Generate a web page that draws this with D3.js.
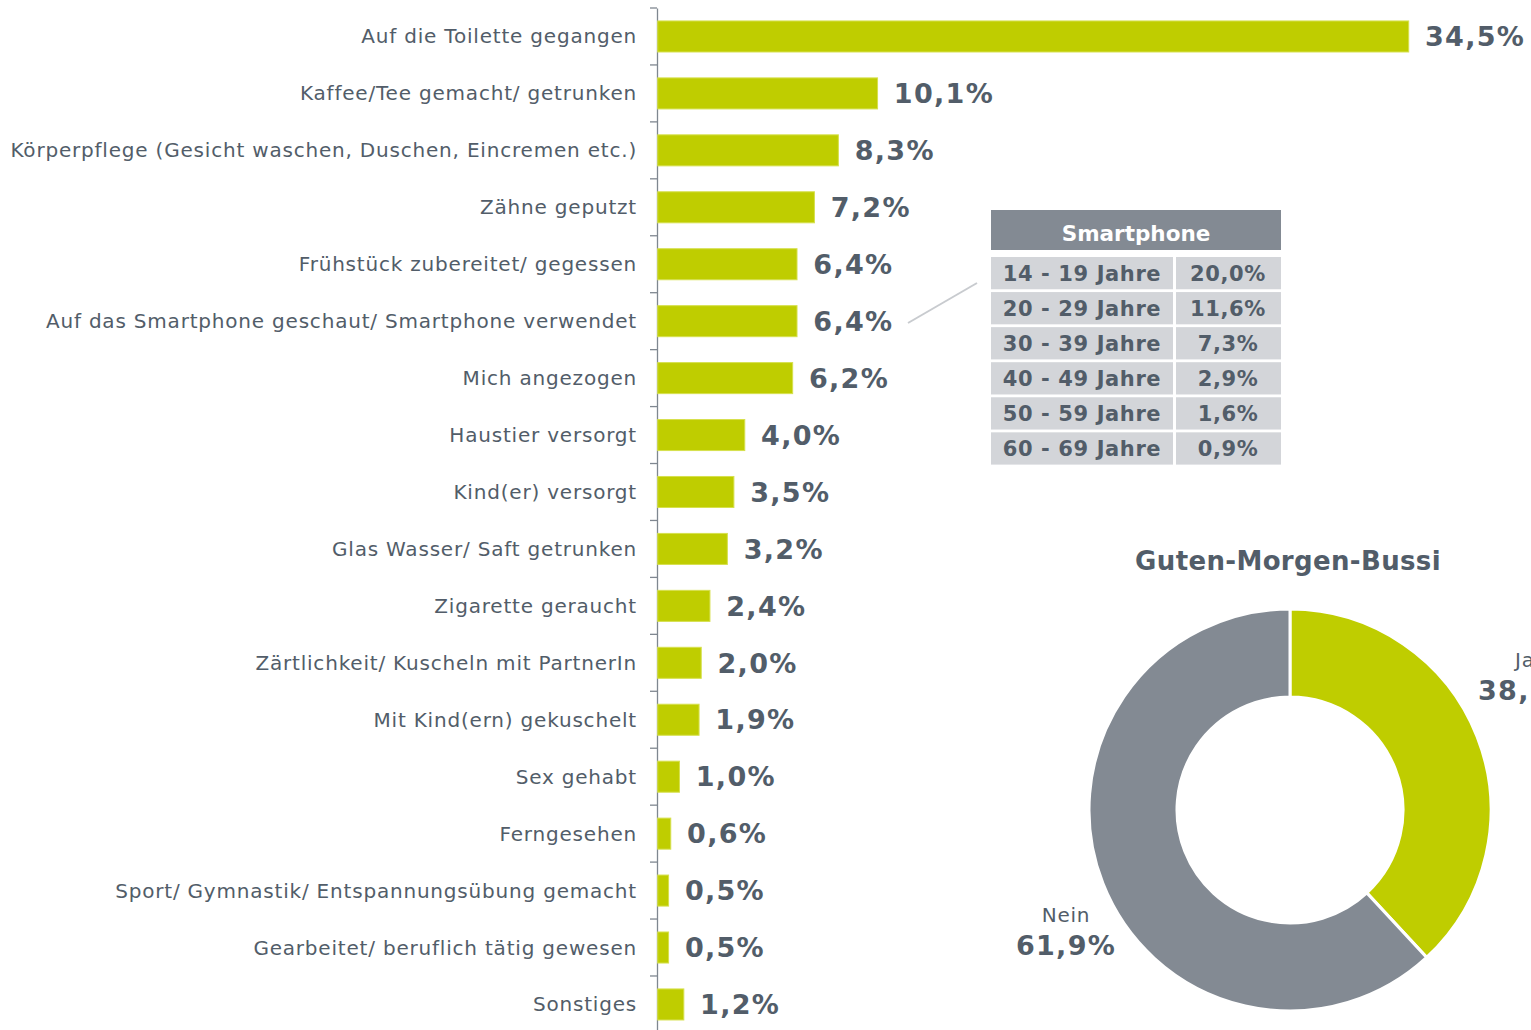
<!DOCTYPE html>
<html>
<head>
<meta charset="utf-8">
<script src="https://cdn.jsdelivr.net/npm/d3@7"></script>
<style>
    body { margin: 0; background: #fff; }
    text { font-family: "DejaVu Sans", Verdana, sans-serif; }
</style>
</head>
<body>
<div id="chart-area"></div>
<script>

// Data
let categories = [
    "Auf die Toilette gegangen",
    "Kaffee/Tee gemacht/ getrunken",
    "Körperpflege (Gesicht waschen, Duschen, Eincremen etc.)",
    "Zähne geputzt",
    "Frühstück zubereitet/ gegessen",
    "Auf das Smartphone geschaut/ Smartphone verwendet",
    "Mich angezogen",
    "Haustier versorgt",
    "Kind(er) versorgt",
    "Glas Wasser/ Saft getrunken",
    "Zigarette geraucht",
    "Zärtlichkeit/ Kuscheln mit PartnerIn",
    "Mit Kind(ern) gekuschelt",
    "Sex gehabt",
    "Ferngesehen",
    "Sport/ Gymnastik/ Entspannungsübung gemacht",
    "Gearbeitet/ beruflich tätig gewesen",
    "Sonstiges"
];
let values = [34.5, 10.1, 8.3, 7.2, 6.4, 6.4, 6.2, 4.0, 3.5, 3.2, 2.4, 2.0, 1.9, 1.0, 0.6, 0.5, 0.5, 1.2];

let ageGroups = ["14 - 19 Jahre", "20 - 29 Jahre", "30 - 39 Jahre", "40 - 49 Jahre", "50 - 59 Jahre", "60 - 69 Jahre"];
let smartphoneShares = [20.0, 11.6, 7.3, 2.9, 1.6, 0.9];

let donutLabels = ["Ja", "Nein"];
let donutValues = [38.1, 61.9];

let green = "#bfcd00",
    grey = "#838a93",
    textColor = "#525d69";

let fmt = v => d3.format(".1f")(v).replace(".", ",") + "%";

let svg = d3.select("#chart-area").append("svg")
    .attr("width", 1531)
    .attr("height", 1030);

// Scales
let axisX = 657;
let step = 56.94;

let x = d3.scaleLinear()
    .domain([0, 34.5])
    .range([axisX, 1408]);

let y = d3.scaleBand()
    .domain(categories)
    .range([8, 8 + step * categories.length])
    .paddingInner(0.455)
    .paddingOuter(0.2275);

// Axis
let yAxis = d3.axisLeft(y).tickSize(0).tickPadding(20);

let yAxisGroup = svg.append("g")
    .attr("class", "y-axis")
    .attr("transform", "translate(" + axisX + ",0)")
    .call(yAxis);

yAxisGroup.select(".domain").attr("stroke", "#7f8790").attr("stroke-width", 1.3);
yAxisGroup.selectAll("text")
    .attr("fill", textColor)
    .style("font-size", "20px")
    .style("letter-spacing", "0.8px")
    .attr("dy", "0.35em");

// boundary ticks between bands
svg.selectAll(".band-tick")
    .data(d3.range(categories.length + 1))
    .enter().append("line")
    .attr("class", "band-tick")
    .attr("x1", axisX - 7)
    .attr("x2", axisX)
    .attr("y1", i => y.range()[0] + i * y.step())
    .attr("y2", i => y.range()[0] + i * y.step())
    .attr("stroke", "#7f8790")
    .attr("stroke-width", 1.3);

// Bars
svg.selectAll(".bar")
    .data(values)
    .enter().append("rect")
    .attr("class", "bar")
    .attr("x", axisX + 0.7)
    .attr("y", (d, i) => y(categories[i]))
    .attr("width", d => x(d) - axisX)
    .attr("height", y.bandwidth())
    .attr("fill", green)
    .attr("stroke", "#d6e04d")
    .attr("stroke-width", 1);

svg.selectAll(".bar-label")
    .data(values)
    .enter().append("text")
    .attr("class", "bar-label")
    .attr("x", d => x(d) + 17)
    .attr("y", (d, i) => y(categories[i]) + y.bandwidth() / 2)
    .attr("dy", "0.36em")
    .attr("fill", textColor)
    .style("font-size", "27px")
    .style("font-weight", "bold")
    .style("letter-spacing", "1.3px")
    .text(d => fmt(d));

// Callout line to table
svg.append("line")
    .attr("x1", 908).attr("y1", 323)
    .attr("x2", 977).attr("y2", 283)
    .attr("stroke", "#c8cbcf")
    .attr("stroke-width", 2);

// Smartphone table
let table = svg.append("g").attr("transform", "translate(991,210)");

table.append("rect")
    .attr("width", 290).attr("height", 40)
    .attr("fill", grey);

table.append("text")
    .attr("x", 145).attr("y", 23)
    .attr("dy", "0.35em")
    .attr("text-anchor", "middle")
    .attr("fill", "#fff")
    .style("font-size", "21.5px")
    .style("font-weight", "bold")
    .text("Smartphone");

let rowY = d3.scaleBand()
    .domain(ageGroups)
    .range([47, 47 + 34.6 * ageGroups.length])
    .paddingInner(0.08);

let rows = table.selectAll(".row")
    .data(ageGroups)
    .enter().append("g")
    .attr("class", "row")
    .attr("transform", d => "translate(0," + rowY(d) + ")");

rows.append("rect")
    .attr("width", 182).attr("height", rowY.bandwidth())
    .attr("fill", "#d3d5d9");
rows.append("rect")
    .attr("x", 185).attr("width", 105).attr("height", rowY.bandwidth())
    .attr("fill", "#d3d5d9");

rows.append("text")
    .attr("x", 91).attr("y", rowY.bandwidth() / 2)
    .attr("dy", "0.36em")
    .attr("text-anchor", "middle")
    .attr("fill", textColor)
    .style("font-size", "21px")
    .style("font-weight", "bold")
    .style("letter-spacing", "0.6px")
    .text(d => d);

rows.append("text")
    .attr("x", 237).attr("y", rowY.bandwidth() / 2)
    .attr("dy", "0.36em")
    .attr("text-anchor", "middle")
    .attr("fill", textColor)
    .style("font-size", "21px")
    .style("font-weight", "bold")
    .style("letter-spacing", "0.6px")
    .text((d, i) => fmt(smartphoneShares[i]));

// Donut
let cx = 1290, cy = 810;

svg.append("text")
    .attr("x", 1288).attr("y", 570)
    .attr("text-anchor", "middle")
    .attr("fill", textColor)
    .style("font-size", "26px")
    .style("font-weight", "bold")
    .style("letter-spacing", "0.35px")
    .text("Guten-Morgen-Bussi");

let pie = d3.pie().sort(null)(donutValues);
let arc = d3.arc().innerRadius(113).outerRadius(201);

let donut = svg.append("g").attr("transform", "translate(" + cx + "," + cy + ")");

donut.selectAll(".slice")
    .data(pie)
    .enter().append("path")
    .attr("class", "slice")
    .attr("d", arc)
    .attr("fill", (d, i) => i === 0 ? green : grey)
    .attr("stroke", "#fff")
    .attr("stroke-width", 3);

let donutLabelPos = [[1478, 660], [1066, 915]];
let donutAnchor = ["start", "middle"];

donutLabelPos.forEach((p, i) => {
    svg.append("text")
        .attr("x", i === 0 ? p[0] + 37 : p[0]).attr("y", p[1])
        .attr("dy", "0.35em")
        .attr("text-anchor", donutAnchor[i])
        .attr("fill", textColor)
        .style("font-size", "20px")
        .style("letter-spacing", "0.8px")
        .text(donutLabels[i]);
    svg.append("text")
        .attr("x", p[0]).attr("y", p[1] + 31)
        .attr("dy", "0.35em")
        .attr("text-anchor", donutAnchor[i])
        .attr("fill", textColor)
        .style("font-size", "27px")
        .style("font-weight", "bold")
        .style("letter-spacing", "1.3px")
        .text(fmt(donutValues[i]));
});

</script>
</body>
</html>
